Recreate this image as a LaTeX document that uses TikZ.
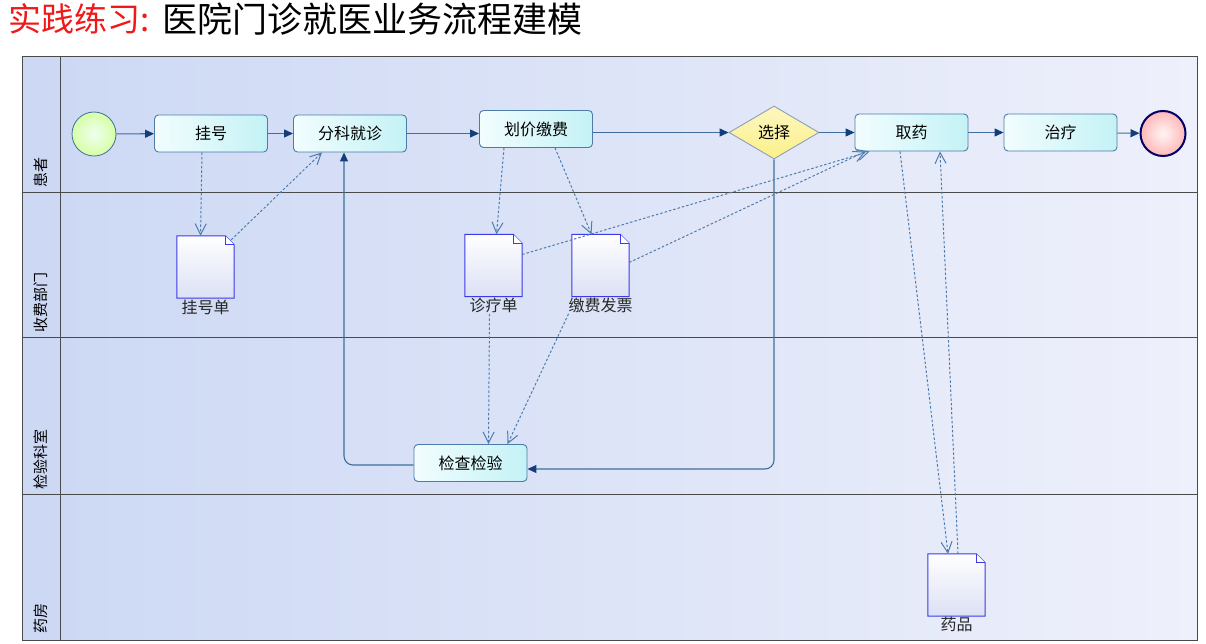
\documentclass[tikz,border=0pt]{standalone}
\usepackage{fontspec}
\setmainfont{Noto Sans CJK SC}
\usetikzlibrary{shapes.geometric,arrows.meta}
\definecolor{lanedark}{HTML}{CCD8F4}
\definecolor{lanelight}{HTML}{EEF0FB}
\definecolor{gridc}{HTML}{4A4A4A}
\definecolor{flowc}{HTML}{3F6E9E}
\definecolor{tipc}{HTML}{123F7A}
\definecolor{dashc}{HTML}{4E7CAE}
\definecolor{taskl}{HTML}{F2FDFE}
\definecolor{taskr}{HTML}{C4F2F6}
\definecolor{taskb}{HTML}{4D7CA6}
\definecolor{docb}{HTML}{3A3AE8}
\definecolor{docf}{HTML}{DCE0F4}
\definecolor{diaf}{HTML}{FBF08A}
\definecolor{diab}{HTML}{8AA0B8}
\definecolor{titlered}{HTML}{F01818}
\newcommand{\docshape}[1]{%
  \shade[top color=white, bottom color=docf, draw=docb, line width=1pt]
    (#1.north west) -- ([xshift=-9pt]#1.north east) -- ([yshift=-9pt]#1.north east)
    -- (#1.south east) -- (#1.south west) -- cycle;
  \draw[docb, line width=0.8pt, fill=white] ([xshift=-9pt]#1.north east) -- ([xshift=-9pt,yshift=-9pt]#1.north east) -- ([yshift=-9pt]#1.north east);
}
\begin{document}
\begin{tikzpicture}[x=1pt,y=-1pt,
  every node/.style={font=\fontsize{16}{18}\selectfont},
  task/.style={draw=taskb, line width=0.9pt, rounded corners=4pt, left color=taskl, right color=taskr,
    minimum width=113pt, minimum height=37pt, inner sep=0pt, text=black},
  decision/.style={diamond, draw=diab, line width=0.9pt, top color=diaf!55!white, bottom color=diaf,
    minimum width=90pt, minimum height=53pt, inner sep=0pt, aspect=1.7},
  startev/.style={circle, draw=flowc, line width=0.8pt, inner color=green!6!white, outer color=green!28!lime!35!white,
    minimum size=44pt, inner sep=0pt},
  endev/.style={circle, draw=blue!40!black, line width=2pt, inner color=red!4!white, outer color=red!28!white,
    minimum size=45pt, inner sep=0pt},
  docbox/.style={draw=none, minimum width=57pt, minimum height=62pt, inner sep=0pt},
  doclabel/.style={inner sep=1pt, text=black!85},
  flow/.style={draw=flowc, line width=1.1pt, -{Triangle[length=9pt,width=8pt,color=tipc]}},
  flowloop/.style={flow, rounded corners=9pt},
  dataflow/.style={draw=dashc, line width=1pt, dash pattern=on 2.5pt off 2pt,
    -{Straight Barb[length=11pt,width=11pt,line width=1pt]}},
  lanelabel/.style={rotate=90, anchor=west, inner sep=0pt, font=\fontsize{15}{17}\selectfont}
]
\useasboundingbox (0,0) rectangle (1206,644);

% title
\node[anchor=west, inner sep=0pt, text=titlered, font=\fontsize{33}{36}\selectfont] (t1) at (8,19) {实践练习:};
\node[anchor=west, inner sep=0pt, text=black, font=\fontsize{35}{38}\selectfont] (t2) at (162,19) {医院门诊就医业务流程建模};

% pool and lanes
\shade[left color=lanedark, right color=lanelight] (22,57) rectangle (1197,193);
\shade[left color=lanedark, right color=lanelight] (22,193) rectangle (1197,337);
\shade[left color=lanedark, right color=lanelight] (22,337) rectangle (1197,494);
\shade[left color=lanedark, right color=lanelight] (22,494) rectangle (1197,640);
\draw[gridc, line width=1pt] (22,57) rectangle (1197,640);
\draw[gridc, line width=1pt] (60,57) -- (60,640);
\draw[gridc, line width=1pt] (22,193) -- (1197,193);
\draw[gridc, line width=1pt] (22,337) -- (1197,337);
\draw[gridc, line width=1pt] (22,494) -- (1197,494);

\node[lanelabel] (l1) at (41,188) {患者};
\node[lanelabel] (l2) at (41,333) {收费部门};
\node[lanelabel] (l3) at (41,490) {检验科室};
\node[lanelabel] (l4) at (41,634) {药房};

% events and tasks
\node[startev] (st) at (94,134) {};
\node[task] (gh) at (211,133.5) {挂号};
\node[task] (fk) at (350,133.5) {分科就诊};
\node[task] (hj) at (536,129) {划价缴费};
\node[decision] (xz) at (774,132.5) {选择};
\node[task] (qy) at (911.5,132.5) {取药};
\node[task] (zl) at (1060.5,132.5) {治疗};
\node[endev] (en) at (1163,133.5) {};
\node[task] (jc) at (470.5,463) {检查检验};

% documents
\node[docbox] (ghd) at (205.5,267) {};
\docshape{ghd}
\node[doclabel, anchor=north] (ghl) at ([yshift=-1pt]ghd.south) {挂号单};
\node[docbox] (zld) at (493.5,265.5) {};
\docshape{zld}
\node[doclabel, anchor=north] (zll) at ([yshift=0pt]zld.south) {诊疗单};
\node[docbox] (jfd) at (600.5,265.5) {};
\docshape{jfd}
\node[doclabel, anchor=north] (jfl) at ([yshift=0pt]jfd.south) {缴费发票};
\node[docbox] (ypd) at (956.5,585) {};
\docshape{ypd}
\node[doclabel, anchor=north] (ypl) at ([yshift=0pt]ypd.south) {药品};

% sequence flows
\draw[flow] (st) -- (gh);
\draw[flow] (gh) -- (fk);
\draw[flow] (fk.east) -- (fk.east -| hj.west);
\draw[flow] (hj.east |- xz.west) -- (xz.west);
\draw[flow] (xz) -- (qy);
\draw[flow] (qy) -- (zl);
\draw[flow] (zl) -- (en);
\draw[flowloop] (xz.south) |- ([yshift=-6pt]jc.east);
\draw[flowloop] ([yshift=-2pt]jc.west) -| ([xshift=-6pt]fk.south);

% data associations
\draw[dataflow] ([xshift=-9pt]gh.south) -- ([xshift=-5pt]ghd.north);
\draw[dataflow] ([xshift=-3pt,yshift=-4pt]ghd.north east) -- ([xshift=-28pt]fk.south);
\draw[dataflow] ([xshift=-32pt]hj.south) -- ([xshift=3pt]zld.north);
\draw[dataflow] ([xshift=19pt]hj.south) -- ([xshift=-9pt]jfd.north);
\draw[dataflow] ([yshift=11pt]zld.east) -- ([xshift=-42pt]qy.south);
\draw[dataflow] ([yshift=3pt]jfd.east) -- ([xshift=-46pt]qy.south);
\draw[dataflow] ([xshift=-4pt]zll.south) -- ([xshift=18pt]jc.north);
\draw[dataflow] ([xshift=-32pt]jfl.south) -- ([xshift=37pt]jc.north);
\draw[dataflow] ([xshift=-11.5pt]qy.south) -- ([xshift=-8.5pt]ypd.north);
\draw[dataflow] ([xshift=1.5pt]ypd.north) -- ([xshift=28.5pt]qy.south);
\end{tikzpicture}
\end{document}
